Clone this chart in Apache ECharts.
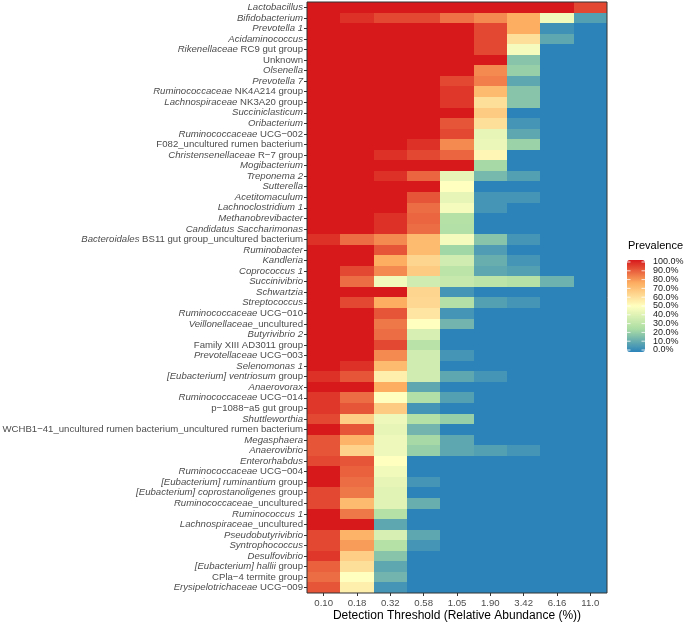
<!DOCTYPE html>
<html>
<head>
<meta charset="utf-8">
<script src="https://cdn.jsdelivr.net/npm/echarts@6/dist/echarts.min.js"></script>
<style>
  html, body { margin: 0; padding: 0; background: #fff; }
  #main { width: 685px; height: 622px; }
</style>
</head>
<body>
<div id="main"></div>
<script>
var thresholds = ['0.10', '0.18', '0.32', '0.58', '1.05', '1.90', '3.42', '6.16', '11.0'];

var genera = [
  'Lactobacillus', 'Bifidobacterium', 'Prevotella 1', 'Acidaminococcus',
  'Rikenellaceae RC9 gut group', 'Unknown', 'Olsenella', 'Prevotella 7',
  'Ruminococcaceae NK4A214 group', 'Lachnospiraceae NK3A20 group', 'Succiniclasticum',
  'Oribacterium', 'Ruminococcaceae UCG\u2212002', 'F082_uncultured rumen bacterium',
  'Christensenellaceae R\u22127 group', 'Mogibacterium', 'Treponema 2', 'Sutterella',
  'Acetitomaculum', 'Lachnoclostridium 1', 'Methanobrevibacter', 'Candidatus Saccharimonas',
  'Bacteroidales BS11 gut group_uncultured bacterium', 'Ruminobacter', 'Kandleria',
  'Coprococcus 1', 'Succinivibrio', 'Schwartzia', 'Streptococcus',
  'Ruminococcaceae UCG\u2212010', 'Veillonellaceae_uncultured', 'Butyrivibrio 2',
  'Family XIII AD3011 group', 'Prevotellaceae UCG\u2212003', 'Selenomonas 1',
  '[Eubacterium] ventriosum group', 'Anaerovorax', 'Ruminococcaceae UCG\u2212014',
  'p\u22121088\u2212a5 gut group', 'Shuttleworthia',
  'WCHB1\u221241_uncultured rumen bacterium_uncultured rumen bacterium',
  'Megasphaera', 'Anaerovibrio', 'Enterorhabdus', 'Ruminococcaceae UCG\u2212004',
  '[Eubacterium] ruminantium group', '[Eubacterium] coprostanoligenes group',
  'Ruminococcaceae_uncultured', 'Ruminococcus 1', 'Lachnospiraceae_uncultured',
  'Pseudobutyrivibrio', 'Syntrophococcus', 'Desulfovibrio', '[Eubacterium] hallii group',
  'CPla\u22124 termite group', 'Erysipelotrichaceae UCG\u2212009'
];

// italic part at the start of each label ('' = none)
var italicParts = [
  'Lactobacillus', 'Bifidobacterium', 'Prevotella 1', 'Acidaminococcus',
  'Rikenellaceae', '', 'Olsenella', 'Prevotella 7',
  'Ruminococcaceae', 'Lachnospiraceae', 'Succiniclasticum',
  'Oribacterium', 'Ruminococcaceae', '',
  'Christensenellaceae', 'Mogibacterium', 'Treponema 2', 'Sutterella',
  'Acetitomaculum', 'Lachnoclostridium 1', 'Methanobrevibacter', 'Candidatus Saccharimonas',
  'Bacteroidales', 'Ruminobacter', 'Kandleria',
  'Coprococcus 1', 'Succinivibrio', 'Schwartzia', 'Streptococcus',
  'Ruminococcaceae', 'Veillonellaceae', 'Butyrivibrio 2',
  '', 'Prevotellaceae', 'Selenomonas 1',
  '[Eubacterium] ventriosum', 'Anaerovorax', 'Ruminococcaceae',
  '', 'Shuttleworthia',
  '',
  'Megasphaera', 'Anaerovibrio', 'Enterorhabdus', 'Ruminococcaceae',
  '[Eubacterium] ruminantium', '[Eubacterium] coprostanoligenes',
  'Ruminococcaceae', 'Ruminococcus 1', 'Lachnospiraceae',
  'Pseudobutyrivibrio', 'Syntrophococcus', 'Desulfovibrio', '[Eubacterium] hallii',
  '', 'Erysipelotrichaceae'
];

// prevalence (%) per genus, one value per detection threshold
var prevalence = [
  [100, 100, 100, 100, 100, 100, 100, 100, 92],
  [100, 96, 92, 92, 85, 81, 75, 46, 8],
  [100, 100, 100, 100, 100, 92, 75, 4, 0],
  [100, 100, 100, 100, 100, 92, 60, 10, 0],
  [100, 100, 100, 100, 100, 92, 47, 0, 0],
  [100, 100, 100, 100, 100, 100, 18, 0, 0],
  [100, 100, 100, 100, 100, 81, 21, 0, 0],
  [100, 100, 100, 100, 92, 83, 10, 0, 0],
  [100, 100, 100, 100, 95, 71, 18, 0, 0],
  [100, 100, 100, 100, 95, 60, 18, 0, 0],
  [100, 100, 100, 100, 100, 66, 0, 0, 0],
  [100, 100, 100, 100, 90, 60, 5, 0, 0],
  [100, 100, 100, 100, 92, 43, 10, 0, 0],
  [100, 100, 100, 96, 81, 44, 22, 0, 0],
  [100, 100, 96, 92, 87, 53, 0, 0, 0],
  [100, 100, 100, 100, 100, 24, 0, 0, 0],
  [100, 100, 96, 87, 43, 15, 8, 0, 0],
  [100, 100, 100, 100, 50, 0, 0, 0, 0],
  [100, 100, 100, 90, 43, 5, 5, 0, 0],
  [100, 100, 100, 86, 47, 5, 0, 0, 0],
  [100, 100, 96, 87, 28, 0, 0, 0, 0],
  [100, 100, 96, 86, 27, 0, 0, 0, 0],
  [96, 86, 81, 71, 47, 18, 5, 0, 0],
  [100, 100, 90, 71, 23, 7, 0, 0, 0],
  [100, 100, 75, 63, 36, 12, 5, 0, 0],
  [100, 92, 81, 66, 30, 10, 8, 0, 0],
  [100, 86, 46, 36, 33, 30, 28, 13, 0],
  [100, 100, 100, 63, 5, 0, 0, 0, 0],
  [100, 92, 75, 62, 27, 8, 5, 0, 0],
  [100, 100, 90, 58, 5, 0, 0, 0, 0],
  [100, 100, 84, 50, 14, 0, 0, 0, 0],
  [100, 100, 86, 38, 0, 0, 0, 0, 0],
  [100, 100, 92, 29, 0, 0, 0, 0, 0],
  [100, 100, 81, 36, 5, 0, 0, 0, 0],
  [100, 96, 71, 36, 0, 0, 0, 0, 0],
  [96, 90, 55, 36, 10, 5, 0, 0, 0],
  [100, 100, 75, 10, 0, 0, 0, 0, 0],
  [95, 86, 50, 27, 8, 0, 0, 0, 0],
  [95, 90, 66, 5, 0, 0, 0, 0, 0],
  [92, 65, 45, 28, 21, 0, 0, 0, 0],
  [100, 90, 43, 14, 0, 0, 0, 0, 0],
  [90, 73, 45, 24, 10, 0, 0, 0, 0],
  [90, 64, 45, 21, 10, 8, 5, 0, 0],
  [92, 90, 50, 0, 0, 0, 0, 0, 0],
  [100, 88, 46, 0, 0, 0, 0, 0, 0],
  [100, 86, 43, 5, 0, 0, 0, 0, 0],
  [92, 84, 41, 0, 0, 0, 0, 0, 0],
  [92, 71, 41, 12, 0, 0, 0, 0, 0],
  [100, 84, 28, 0, 0, 0, 0, 0, 0],
  [100, 100, 10, 0, 0, 0, 0, 0, 0],
  [92, 73, 38, 10, 0, 0, 0, 0, 0],
  [92, 78, 28, 5, 0, 0, 0, 0, 0],
  [95, 65, 18, 0, 0, 0, 0, 0, 0],
  [88, 60, 10, 0, 0, 0, 0, 0, 0],
  [86, 50, 14, 0, 0, 0, 0, 0, 0],
  [90, 55, 5, 0, 0, 0, 0, 0, 0]
];

var legendBreaks = [100, 90, 80, 70, 60, 50, 40, 30, 20, 10, 0];

var palette = ['#2b83ba', '#abdda4', '#ffffbf', '#fdae61', '#d7191c'];
var font = 'Liberation Sans, Arial, Helvetica, sans-serif';

// layout
var gridBox = { left: 307, top: 2, width: 300, height: 591 };
var bar = { left: 627, top: 260, width: 18, height: 92 };

var cells = [];
prevalence.forEach(function (row, i) {
  row.forEach(function (v, j) {
    cells.push([j, i, v]);
  });
});

var legendGraphics = [{
  type: 'text', left: 628, top: 240,
  style: { text: 'Prevalence', font: '11px ' + font, fill: '#000' }
}];
legendBreaks.forEach(function (b) {
  var y = bar.top + bar.height - 2 - (bar.height - 4) * b / 100;
  legendGraphics.push({
    type: 'text', x: bar.left + bar.width + 8, y: y,
    style: { text: b.toFixed(1) + '%', font: '9px ' + font, fill: '#1a1a1a', verticalAlign: 'middle' }
  });
  legendGraphics.push({
    type: 'line', z: 100,
    shape: { x1: bar.left, y1: y, x2: bar.left + 3.5, y2: y },
    style: { stroke: '#fff', lineWidth: 0.8 }
  });
  legendGraphics.push({
    type: 'line', z: 100,
    shape: { x1: bar.left + bar.width - 3.5, y1: y, x2: bar.left + bar.width, y2: y },
    style: { stroke: '#fff', lineWidth: 0.8 }
  });
});
legendGraphics.push({
  type: 'rect', z: 100, silent: true,
  shape: { x: gridBox.left, y: gridBox.top, width: gridBox.width, height: gridBox.height },
  style: { fill: 'none', stroke: '#333', lineWidth: 1 }
});

// tiles snapped to whole pixels so neighbours share edges
function renderTile(params, api) {
  var c = api.coord([api.value(0), api.value(1)]);
  var s = api.size([1, 1]);
  var x0 = Math.round(c[0] - s[0] / 2), x1 = Math.round(c[0] + s[0] / 2);
  var y0 = Math.round(c[1] - s[1] / 2), y1 = Math.round(c[1] + s[1] / 2);
  return {
    type: 'rect',
    shape: { x: x0, y: y0, width: x1 - x0, height: y1 - y0 },
    style: { fill: api.visual('color') }
  };
}

var myChart = echarts.init(document.getElementById('main'));
var option = {
  backgroundColor: '#fff',
  animation: false,
  textStyle: { fontFamily: font },
  grid: {
    left: gridBox.left,
    top: gridBox.top,
    width: gridBox.width,
    height: gridBox.height,
    containLabel: false,
    outerBoundsMode: 'none'
  },
  xAxis: {
    type: 'category',
    data: thresholds,
    name: 'Detection Threshold (Relative Abundance (%))',
    nameLocation: 'middle',
    nameGap: 17,
    nameMoveOverlap: false,
    nameTextStyle: { fontSize: 12, color: '#000', fontFamily: font },
    axisLine: { show: false },
    axisTick: { show: true, length: 3, alignWithLabel: true, lineStyle: { color: '#333' } },
    axisLabel: { interval: 0, margin: 5, fontSize: 9.6, color: '#4d4d4d', fontFamily: font },
    splitLine: { show: false }
  },
  yAxis: {
    type: 'category',
    data: genera,
    inverse: true,
    axisLine: { show: false },
    axisTick: { show: true, length: 3, alignWithLabel: true, lineStyle: { color: '#333' } },
    axisLabel: {
      interval: 0,
      margin: 4,
      fontSize: 9.6,
      color: '#4d4d4d',
      fontFamily: font,
      formatter: function (name, idx) {
        var it = italicParts[idx];
        var rest = name.slice(it.length);
        var s = '';
        if (it) s += '{i|' + it + '}';
        if (rest) s += '{n|' + rest + '}';
        return s;
      },
      rich: {
        i: { fontStyle: 'italic', fontSize: 9.6, color: '#4d4d4d', fontFamily: font },
        n: { fontSize: 9.6, color: '#4d4d4d', fontFamily: font }
      }
    },
    splitLine: { show: false }
  },
  visualMap: {
    type: 'continuous',
    min: 0,
    max: 100,
    dimension: 2,
    calculable: false,
    realtime: false,
    orient: 'vertical',
    left: bar.left,
    top: bar.top,
    padding: 0,
    itemWidth: bar.width,
    itemHeight: bar.height,
    inRange: { color: palette }
  },
  graphic: legendGraphics,
  series: [{
    name: 'Prevalence',
    type: 'custom',
    renderItem: renderTile,
    encode: { x: 0, y: 1 },
    data: cells,
    silent: true
  }]
};
myChart.setOption(option);
</script>
</body>
</html>
